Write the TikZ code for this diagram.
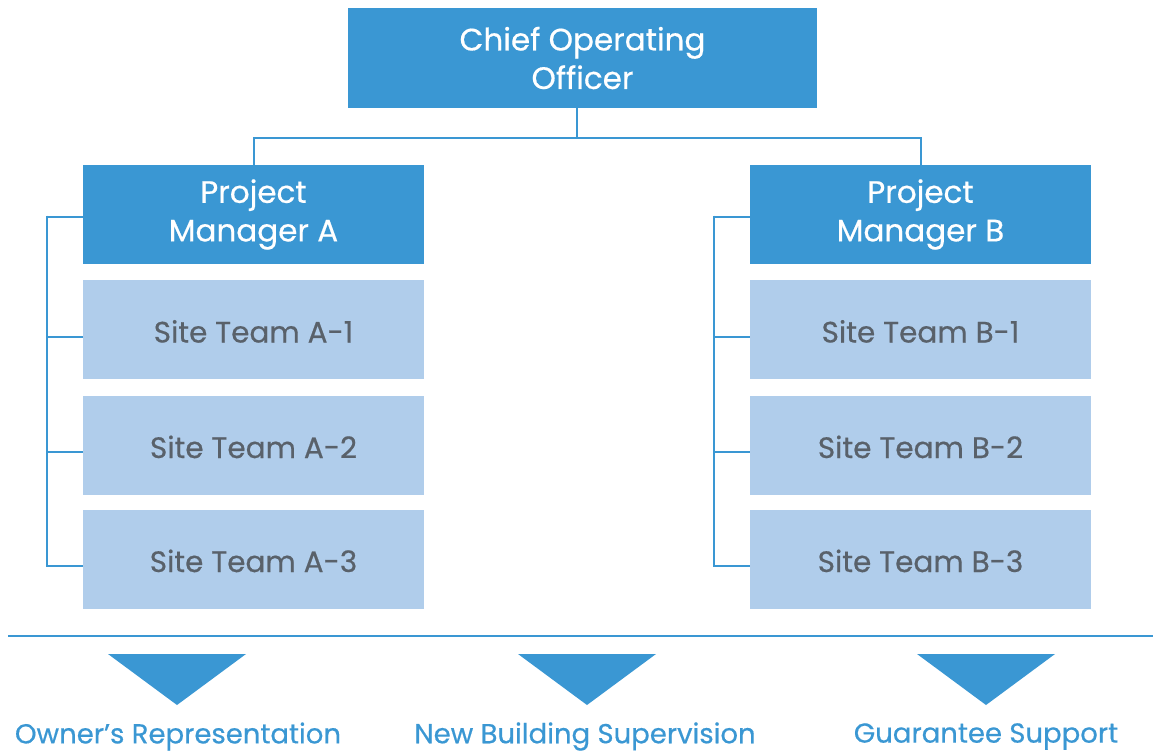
\documentclass[tikz,border=0pt]{standalone}
\usepackage{fontspec}
\setmainfont{Poppins}[FakeBold=0.5]
\definecolor{dblue}{HTML}{3A97D3}
\definecolor{lblue}{HTML}{B0CDEB}
\definecolor{tgray}{HTML}{59616A}
\begin{document}
\begin{tikzpicture}[x=1pt,y=-1pt,
  headbox/.style={fill=dblue,text=white,minimum width=341pt,minimum height=99pt,inner sep=0pt,align=center,font=\fontsize{31}{38.5}\selectfont},
  sitebox/.style={fill=lblue,text=tgray,minimum width=341pt,minimum height=99pt,inner sep=0pt,align=center,text height=26pt,text depth=0pt,font=\fontsize{29.5}{36}\selectfont},
  conn/.style={draw=dblue,line width=2pt},
  lab/.style={text=dblue,inner sep=0pt,font=\fontsize{27.5}{32}\selectfont},
  tri/.style={fill=dblue}]
\useasboundingbox (0,0) rectangle (1153,753);
\node[headbox,minimum width=469pt,minimum height=100pt] (coo) at (582.5,58) {Chief Operating\\Officer};
\node[headbox] (pma) at (253.5,214.5) {Project\\Manager A};
\node[sitebox] (a1) at (253.5,329.5) {Site Team A-1};
\node[sitebox] (a2) at (253.5,445) {Site Team A-2};
\node[sitebox] (a3) at (253.5,559) {Site Team A-3};
\node[headbox] (pmb) at (920.5,214.5) {Project\\Manager B};
\node[sitebox] (b1) at (920.5,329.5) {Site Team B-1};
\node[sitebox] (b2) at (920.5,445) {Site Team B-2};
\node[sitebox] (b3) at (920.5,559) {Site Team B-3};
% top connectors
\coordinate (hub) at (577,138);
\draw[conn] (hub |- coo.south) -- (hub);
\draw[conn] (pma.north) |- (hub) -| (pmb.north);
% brackets
\foreach \s in {a,b}{
  \draw[conn] ([yshift=-2pt]pm\s.west) -- ++(-36,0) coordinate (top\s);
  \foreach \i in {1,2,3}{
    \draw[conn] ([yshift=-7pt]\s\i.west) -- ++(-36,0) coordinate (end\s\i);
  }
  \draw[conn] ([yshift=1pt]top\s) -- ([yshift=-1pt]end\s3);
}
% separator
\coordinate (sepl) at (8,636);
\coordinate (sepr) at (1153,636);
\draw[conn] (sepl) -- (sepr);
% triangles
\fill[tri] (108,654) -- (246,654) -- (177,705) -- cycle;
\fill[tri] (518,654) -- (656,654) -- (587,705) -- cycle;
\fill[tri] (917,654) -- (1055,654) -- (986,705) -- cycle;
\node[lab] (l1) at (178,736.5) {Owner’s Representation};
\node[lab] (l2) at (585,736.5) {New Building Supervision};
\node[lab] (l3) at (986,736.5) {Guarantee Support};
\end{tikzpicture}
\end{document}
